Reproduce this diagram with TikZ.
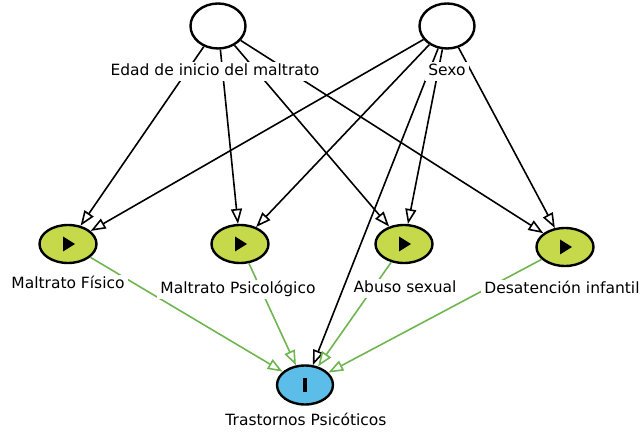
\documentclass[tikz,border=0pt]{standalone}
\usepackage{fontspec}
\setmainfont{DejaVu Sans}
\usetikzlibrary{shapes.geometric,arrows.meta}
\definecolor{expfill}{HTML}{C5D94A}
\definecolor{outfill}{HTML}{5BBDE8}
\definecolor{cpath}{HTML}{6FB650}
\begin{document}
\begin{tikzpicture}[x=1pt,y=-1pt,
 latent/.style={ellipse, draw=black, line width=2.4pt, fill=white, minimum width=55pt, minimum height=45pt, inner sep=0pt},
 expo/.style={ellipse, draw=black, line width=2.4pt, fill=expfill, minimum width=57pt, minimum height=38pt, inner sep=0pt},
 outn/.style={ellipse, draw=black, line width=2.4pt, fill=outfill, minimum width=56pt, minimum height=39pt, inner sep=0pt},
 lbl/.style={fill=white, inner xsep=3pt, inner ysep=2pt, text height=11.5pt, text depth=3.5pt, font=\fontsize{15.5}{18}\selectfont},
 bedge/.style={draw=black, line width=1.6pt, -{Triangle[length=15pt,width=11pt,fill=white]}},
 gedge/.style={draw=cpath, line width=1.6pt, -{Triangle[length=15pt,width=11pt,fill=white]}}]
\useasboundingbox (0,0) rectangle (641,435);
% nodes
\node[latent] (edad) at (218,26) {};
\node[latent] (sexo) at (447,26) {};
\node[expo] (fis) at (68,244) {};
\node[expo] (psi) at (240,244) {};
\node[expo] (abu) at (404,244) {};
\node[expo] (des) at (565,247) {};
\node[outn] (tra) at (305,385) {};
% edges
\draw[bedge] (edad) -- (fis);
\draw[bedge] (edad) -- (psi);
\draw[bedge] (edad) -- (abu);
\draw[bedge] (edad) -- (des);
\draw[bedge] (sexo) -- (fis);
\draw[bedge] (sexo) -- (psi);
\draw[bedge] (sexo) -- (abu);
\draw[bedge] (sexo) -- (des);
\draw[bedge] (sexo) -- (tra);
\draw[gedge] (fis) -- (tra);
\draw[gedge] (psi) -- (tra);
\draw[gedge] (abu) -- (tra);
\draw[gedge] (des) -- (tra);
% icons
\foreach \n in {fis,psi,abu,des}{
  \fill[black] ([xshift=-5pt,yshift=-7.5pt]\n.center) -- ([xshift=7pt]\n.center) -- ([xshift=-5pt,yshift=7.5pt]\n.center) -- cycle;
}
\fill[black] ([xshift=-2pt,yshift=-7pt]tra.center) rectangle ([xshift=2pt,yshift=7pt]tra.center);
% labels
\node[lbl] (edadL) at (215,72) {Edad de inicio del maltrato};
\node[lbl] (sexoL) at (447,72) {Sexo};
\node[lbl] (fisL) at (68,285) {Maltrato Físico};
\node[lbl] (psiL) at (238,290) {Maltrato Psicológico};
\node[lbl] (abuL) at (405,289) {Abuso sexual};
\node[lbl] (desL) at (562,290) {Desatención infantil};
\node[lbl] (traL) at (306,422) {Trastornos Psicóticos};
\end{tikzpicture}
\end{document}
